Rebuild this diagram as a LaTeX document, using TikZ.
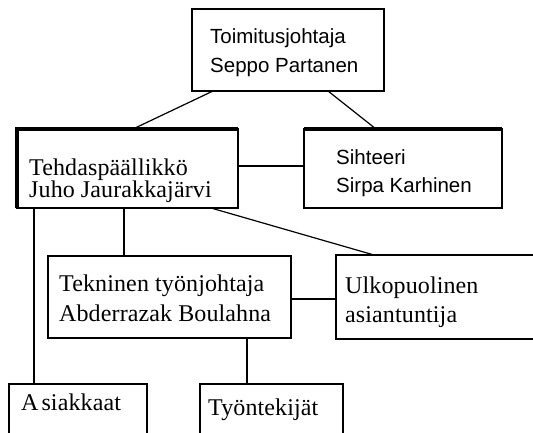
\documentclass[tikz,border=0pt]{standalone}
\usepackage{fontspec}
\setmainfont{Liberation Serif}
\newfontfamily\sansf{Liberation Sans}
\newfontfamily\serifsp[LetterSpace=0.5]{Liberation Serif}
\begin{document}
\begin{tikzpicture}[x=1pt,y=-1pt,
  box/.style={draw, line width=1.2pt, rectangle, inner sep=0pt, outer sep=0pt, anchor=north west},
  conn/.style={line width=1.2pt},
  thickedge/.style={line width=3.2pt, line join=miter},
  st/.style={font=\sansf\fontsize{20.5}{24}\selectfont, anchor=base west, inner sep=0pt},
  rt/.style={font=\serifsp\fontsize{24}{28}\selectfont, anchor=base west, inner sep=0pt}]
\useasboundingbox (0,0) rectangle (533,432);
\clip (0,0) rectangle (533,432);
% boxes
\node[box, minimum width=192pt, minimum height=82pt] (top) at (192,9) {};
\node[box, minimum width=221pt, minimum height=79pt] (teh) at (17,129) {};
\node[box, minimum width=198pt, minimum height=79pt] (sih) at (304,129) {};
\node[box, minimum width=243pt, minimum height=82pt] (tek) at (48,256) {};
\node[box, minimum width=230pt, minimum height=84pt] (ulk) at (336,255) {};
\node[box, minimum width=138pt, minimum height=70pt] (asi) at (9,384) {};
\node[box, minimum width=143pt, minimum height=70pt] (tyo) at (200,384) {};
% thick edges
\draw[thickedge] (teh.south west) -- (teh.north west) -- (teh.north east);
\draw[thickedge] (sih.north west) -- (sih.north east);
% texts
\node[st] (t1) at (210,43) {Toimitusjohtaja};
\node[st] (t2) at (210,72) {Seppo Partanen};
\node[rt] (h1) at (29,175) {Tehdaspäällikkö};
\node[rt] (h2) at (29,197) {Juho Jaurakkajärvi};
\node[st] (s1) at (336,164) {Sihteeri};
\node[st] (s2) at (336,192) {Sirpa Karhinen};
\node[rt] (k1) at (59,291) {Tekninen työnjohtaja};
\node[rt] (k2) at (59,321) {Abderrazak Boulahna};
\node[rt] (u1) at (345,293) {Ulkopuolinen};
\node[rt] (u2) at (345,322) {asiantuntija};
\node[rt] (a1) at (21,410) {A\hspace{3pt}siakkaat};
\node[rt] (w1) at (208,415) {Työntekijät};
% connectors
\draw[conn] ([xshift=21pt]top.south west) -- ([xshift=116pt]teh.north west);
\draw[conn] ([xshift=136pt]top.south west) -- ([xshift=72pt]sih.north west);
\draw[conn] ([yshift=2.5pt]teh.east) -- ([yshift=2.5pt]teh.east -| sih.west);
\draw[conn] ([xshift=17pt]teh.south west) -- ([xshift=17pt]teh.south west |- asi.north);
\draw[conn] ([xshift=107pt]teh.south west) -- ([xshift=107pt]teh.south west |- tek.north);
\draw[conn] ([xshift=194pt]teh.south west) -- ([xshift=38pt]ulk.north west);
\draw[conn] ([yshift=-2pt]tek.east) -- ([yshift=-2pt]tek.east -| ulk.west);
\draw[conn] ([xshift=199pt]tek.south west) -- ([xshift=199pt]tek.south west |- tyo.north);
\end{tikzpicture}
\end{document}
